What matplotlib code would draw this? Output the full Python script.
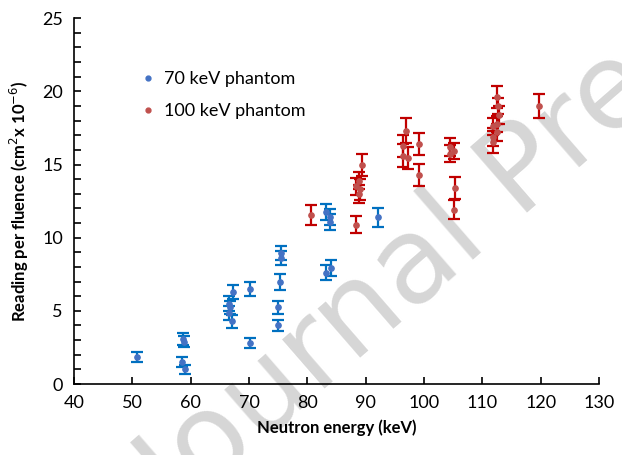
import numpy as np
import matplotlib
matplotlib.use('Agg')
import matplotlib.pyplot as plt

# 70 keV phantom: energy (keV), reading per fluence, error
x_70 = [50.8, 58.6, 58.9, 58.5, 59.0, 67.3, 66.6, 66.8, 66.6, 67.1, 70.2, 70.2,
        75.5, 75.4, 75.3, 75.0, 75.0, 83.2, 83.9, 83.9, 83.2, 84.1, 92.2]
y_70 = [1.85, 3.1, 2.9, 1.5, 1.0, 6.3, 5.5, 5.25, 4.85, 4.3, 6.5, 2.8,
        8.95, 8.6, 7.0, 5.25, 4.0, 11.75, 11.4, 11.05, 7.6, 7.9, 11.4]
e_70 = [0.35, 0.4, 0.4, 0.35, 0.3, 0.5, 0.5, 0.45, 0.45, 0.45, 0.5, 0.35,
        0.5, 0.5, 0.55, 0.45, 0.4, 0.55, 0.55, 0.55, 0.5, 0.55, 0.65]

# 100 keV phantom
x_100 = [80.7, 88.3, 88.3, 88.8, 89.0, 88.9, 89.3, 96.9, 96.4, 96.4, 97.2, 99.2, 99.2,
         104.4, 104.4, 105.1, 105.4, 105.1, 112.6, 112.75, 112.9, 112.6, 111.8, 112.6,
         111.8, 111.8, 119.7]
y_100 = [11.55, 10.9, 13.5, 13.9, 13.3, 13.0, 15.0, 17.3, 16.25, 15.6, 15.45, 16.4, 14.3,
         16.2, 15.75, 15.9, 13.4, 11.9, 19.6, 19.0, 18.4, 17.75, 17.6, 17.2,
         16.9, 16.55, 19.0]
e_100 = [0.65, 0.6, 0.6, 0.6, 0.7, 0.6, 0.75, 0.85, 0.75, 0.8, 0.75, 0.75, 0.75,
         0.6, 0.6, 0.55, 0.75, 0.65, 0.75, 0.55, 0.6, 0.55, 0.6, 0.6,
         0.6, 0.75, 0.8]

plt.rcParams['font.family'] = ['Lato', 'DejaVu Sans']

fig = plt.figure(figsize=(6.22, 4.55), dpi=100)
ax = fig.add_axes([0.119, 0.156, 0.844, 0.804])
ax.patch.set_alpha(0)

# watermark, drawn behind the axes
fig.text(0.289, -0.143, 'Journal Pre-proof', fontsize=86, color='#d6d6d6',
         rotation=41, rotation_mode='anchor', ha='left', va='baseline',
         family='DejaVu Sans', zorder=-5)

ax.errorbar(x_70, y_70, yerr=e_70, fmt='o', color='#4472C4', ms=3.8,
            ecolor='#0070C0', elinewidth=1.6, capsize=4.5, capthick=1.6)
ax.errorbar(x_100, y_100, yerr=e_100, fmt='o', color='#C0504D', ms=3.8,
            ecolor='#C00000', elinewidth=1.6, capsize=4.5, capthick=1.6)

ax.set_xlim(40, 130)
ax.set_ylim(0, 25)
ax.set_xticks(np.arange(40, 131, 10))
ax.set_yticks(np.arange(0, 26, 5))
ax.set_yticks(np.arange(0, 26, 1), minor=True)
ax.tick_params(axis='both', which='both', direction='in', labelsize=13, width=1.2, color='black')
ax.tick_params(axis='both', which='major', length=5)
ax.tick_params(axis='y', which='minor', length=5)
ax.tick_params(axis='x', pad=8)
ax.tick_params(axis='y', pad=8)
for s in ['top', 'right']:
    ax.spines[s].set_visible(False)
for s in ['left', 'bottom']:
    ax.spines[s].set_linewidth(1.2)

ax.set_xlabel('Neutron energy (keV)', fontsize=12, fontweight='bold', labelpad=6)
ax.set_ylabel('Reading per fluence (cm$^{2}$x 10$^{-6}$)', fontsize=12, fontweight='bold', labelpad=8)

handles = [plt.Line2D([], [], ls='none', marker='o', color='#4472C4', ms=3.5),
           plt.Line2D([], [], ls='none', marker='o', color='#C0504D', ms=3.5)]
ax.legend(handles, ['70 keV phantom', '100 keV phantom'], loc='upper left',
          bbox_to_anchor=(0.1, 0.9), frameon=False, fontsize=13,
          handlelength=0.6, handletextpad=0.6, labelspacing=0.9)

fig.savefig('out.png', dpi=100)
